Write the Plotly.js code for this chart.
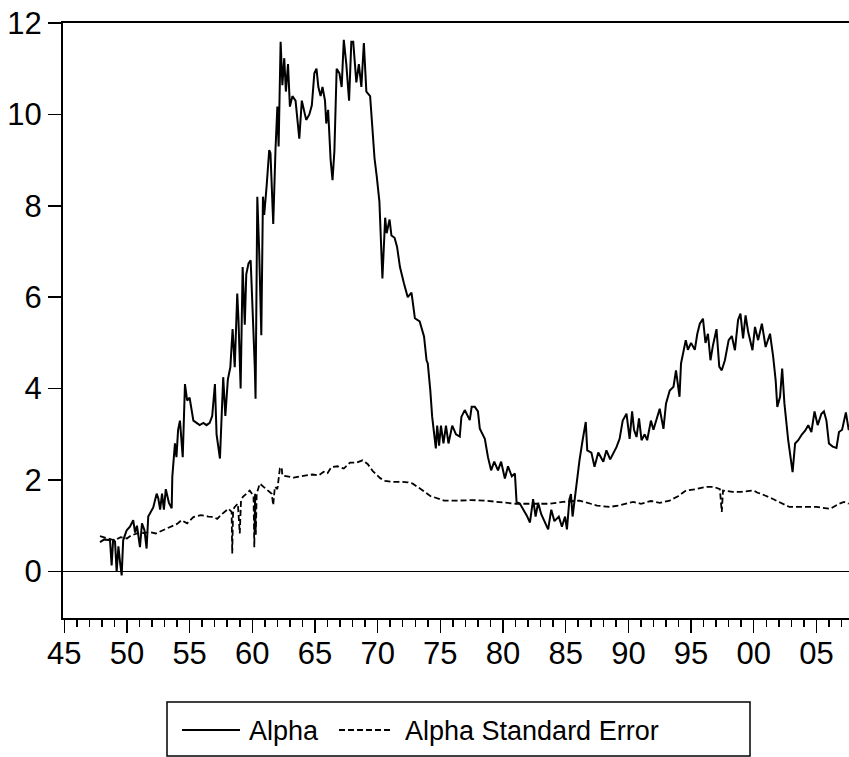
<!DOCTYPE html>
<html>
<head>
<meta charset="utf-8">
<script src="https://cdn.plot.ly/plotly-3.0.1.min.js"></script>
<style>html,body{margin:0;padding:0;background:#fff;}#chart{width:849px;height:757px;}</style>
</head>
<body>
<div id="chart"></div>
<script>
// Alpha (solid) — decimal year, value
var alphaYears = [1947.85,1948.2,1948.65,1948.78,1948.9,1949.05,1949.18,1949.32,1949.45,1949.58,1949.7,1949.98,1950.24,1950.5,1950.65,1950.8,1951.04,1951.2,1951.4,1951.57,1951.7,1952.1,1952.37,1952.5,1952.65,1952.8,1952.95,1953.1,1953.35,1953.57,1953.62,1953.83,1953.95,1954.08,1954.23,1954.45,1954.63,1954.8,1955.0,1955.3,1955.56,1955.8,1956.1,1956.35,1956.6,1956.8,1957.02,1957.15,1957.42,1957.68,1957.85,1958.05,1958.25,1958.43,1958.6,1958.8,1958.9,1959.07,1959.23,1959.4,1959.52,1959.7,1959.87,1960.0,1960.2,1960.26,1960.4,1960.55,1960.72,1960.85,1960.95,1961.14,1961.35,1961.45,1961.67,1961.85,1962.0,1962.1,1962.26,1962.4,1962.55,1962.68,1962.85,1963.0,1963.2,1963.45,1963.75,1963.95,1964.1,1964.3,1964.55,1964.75,1964.95,1965.12,1965.27,1965.45,1965.6,1965.8,1965.9,1966.05,1966.25,1966.4,1966.55,1966.73,1966.95,1967.13,1967.3,1967.5,1967.72,1967.9,1968.05,1968.3,1968.5,1968.7,1968.9,1969.1,1969.4,1969.6,1969.75,1969.93,1970.14,1970.38,1970.6,1970.72,1970.95,1971.1,1971.35,1971.55,1971.78,1972.1,1972.4,1972.7,1972.97,1973.35,1973.7,1973.9,1974.0,1974.2,1974.35,1974.64,1974.75,1974.9,1975.05,1975.25,1975.45,1975.65,1975.95,1976.25,1976.55,1976.68,1976.95,1977.35,1977.5,1977.75,1978.0,1978.15,1978.55,1978.8,1979.05,1979.3,1979.6,1979.85,1980.15,1980.4,1980.7,1980.95,1981.08,1981.35,1981.6,1981.9,1982.15,1982.4,1982.6,1982.8,1983.05,1983.3,1983.6,1983.85,1984.1,1984.45,1984.7,1984.95,1985.1,1985.3,1985.42,1985.55,1985.8,1986.1,1986.35,1986.6,1986.72,1987.05,1987.3,1987.6,1988.0,1988.25,1988.55,1988.8,1989.05,1989.3,1989.55,1989.85,1990.1,1990.3,1990.45,1990.65,1990.85,1991.05,1991.3,1991.5,1991.8,1992.0,1992.25,1992.5,1992.8,1993.0,1993.3,1993.6,1993.8,1994.08,1994.2,1994.58,1994.75,1995.0,1995.3,1995.5,1995.7,1995.95,1996.15,1996.35,1996.55,1996.75,1997.03,1997.25,1997.45,1997.7,1998.0,1998.25,1998.5,1998.75,1998.94,1999.15,1999.35,1999.55,1999.9,2000.1,2000.35,2000.65,2000.95,2001.3,2001.55,2001.75,2001.88,2002.1,2002.27,2002.45,2002.75,2002.95,2003.1,2003.3,2003.55,2003.85,2004.1,2004.35,2004.6,2004.85,2005.1,2005.4,2005.6,2005.8,2006.0,2006.3,2006.6,2006.8,2007.05,2007.35,2007.58];
var alphaValues = [0.64,0.70,0.68,0.13,0.70,0.65,-0.01,0.55,0.20,-0.09,0.68,0.90,0.98,1.12,0.85,1.00,0.53,1.05,0.90,0.50,1.20,1.40,1.70,1.60,1.35,1.70,1.35,1.80,1.50,1.38,2.07,2.80,2.50,3.09,3.30,2.50,4.10,3.74,3.80,3.30,3.25,3.20,3.25,3.20,3.25,3.40,4.10,3.00,2.47,4.25,3.40,4.20,4.47,5.30,4.47,6.08,5.50,4.00,6.66,5.40,6.50,6.74,6.81,6.00,4.47,3.78,8.20,7.00,5.17,8.20,7.80,8.42,9.22,9.15,7.60,9.22,10.17,9.30,11.59,10.64,11.23,10.50,11.10,10.17,10.40,10.30,9.47,10.30,10.10,9.88,10.00,10.20,10.90,11.00,10.60,10.40,10.60,10.30,9.80,10.10,9.00,8.56,9.20,11.00,10.90,10.60,11.63,11.10,10.30,11.59,11.59,10.70,11.10,10.60,11.56,10.50,10.40,9.56,9.04,8.64,8.09,6.41,7.74,7.40,7.70,7.35,7.30,7.10,6.66,6.30,6.00,6.10,5.54,5.47,5.14,4.62,4.55,3.96,3.38,2.69,3.19,2.75,3.19,2.80,3.19,2.80,3.19,3.00,2.95,3.38,3.53,3.31,3.60,3.60,3.50,3.12,2.90,2.50,2.21,2.40,2.21,2.40,2.03,2.30,2.08,2.14,1.52,1.48,1.37,1.22,1.07,1.58,1.20,1.50,1.25,1.10,0.92,1.35,1.10,1.20,0.98,1.20,0.92,1.58,1.69,1.20,1.80,2.43,2.87,3.27,2.65,2.60,2.29,2.60,2.40,2.65,2.45,2.58,2.72,2.90,3.30,3.45,2.90,3.50,3.10,2.94,3.35,2.87,3.00,2.87,3.30,3.10,3.35,3.56,3.12,3.67,3.96,4.04,4.40,3.82,4.55,5.06,4.85,5.00,4.85,5.20,5.42,5.53,5.00,5.20,4.62,4.95,5.30,4.48,4.40,4.62,5.06,5.15,4.84,5.50,5.64,5.10,5.60,5.25,4.84,5.35,5.06,5.42,4.91,5.20,4.70,4.18,3.60,3.82,4.44,3.67,2.87,2.43,2.17,2.80,2.87,3.00,3.08,3.20,3.05,3.50,3.20,3.45,3.50,3.30,2.80,2.73,2.70,3.05,3.10,3.48,3.09];

// Alpha Standard Error (dashed)
var seYears = [1947.85,1948.5,1949.0,1949.5,1950.0,1950.3,1950.8,1951.3,1951.8,1952.3,1952.9,1953.5,1954.0,1954.36,1954.8,1955.3,1955.9,1956.5,1956.9,1957.2,1957.6,1958.1,1958.35,1958.4,1958.47,1958.6,1958.85,1959.0,1959.1,1959.25,1959.5,1959.8,1960.1,1960.16,1960.22,1960.28,1960.35,1960.6,1960.9,1961.3,1961.55,1961.67,1961.8,1962.0,1962.2,1962.34,1962.4,1962.8,1963.3,1963.8,1964.3,1964.8,1965.3,1965.7,1966.0,1966.3,1966.8,1967.3,1967.8,1968.3,1968.8,1969.2,1969.6,1970.2,1970.6,1971.2,1971.8,1972.4,1972.8,1973.2,1973.6,1974.2,1974.7,1975.3,1976.5,1977.5,1978.5,1979.75,1981.0,1982.5,1983.7,1984.8,1986.1,1987.0,1987.5,1988.5,1989.2,1990.4,1991.0,1991.8,1992.5,1993.3,1994.0,1994.6,1995.4,1996.2,1996.8,1997.3,1997.45,1997.55,1998.3,1999.0,2000.0,2000.3,2000.6,2000.9,2001.0,2001.2,2001.5,2002.0,2002.85,2004.0,2005.0,2006.1,2006.8,2007.2,2007.58];
var seValues = [0.77,0.72,0.68,0.75,0.72,0.78,0.83,0.84,0.86,0.83,0.90,0.97,1.04,1.12,1.05,1.19,1.23,1.20,1.19,1.15,1.26,1.37,1.30,0.39,1.35,1.41,1.48,0.83,1.55,1.63,1.70,1.77,1.65,0.53,1.70,0.80,1.70,1.92,1.85,1.77,1.70,1.45,1.85,1.80,2.25,2.28,2.10,2.08,2.05,2.08,2.10,2.12,2.10,2.18,2.15,2.28,2.30,2.25,2.38,2.38,2.43,2.35,2.20,2.04,1.98,1.96,1.96,1.95,1.92,1.85,1.77,1.65,1.60,1.55,1.55,1.56,1.55,1.52,1.48,1.48,1.48,1.52,1.55,1.48,1.44,1.41,1.44,1.52,1.48,1.54,1.50,1.55,1.65,1.77,1.80,1.85,1.85,1.80,1.30,1.77,1.74,1.74,1.77,1.72,1.70,1.66,1.65,1.62,1.59,1.52,1.41,1.41,1.41,1.37,1.48,1.52,1.48];

var seriesNames = ["Alpha", "Alpha Standard Error"];
var majorTickVals = [1945,1950,1955,1960,1965,1970,1975,1980,1985,1990,1995,2000,2005];
var majorTickText = ["45","50","55","60","65","70","75","80","85","90","95","00","05"];
var yTickVals = [0,2,4,6,8,10,12];

var fontFam = '"Liberation Sans", Arial, sans-serif';

// page geometry (px) for the plot frame and legend box
var W = 849, H = 757, ML = 63, MR = 0, MT = 23, MB = 139;
var plotW = W - ML - MR, plotH = H - MT - MB;
function px2x(p) { return (p - ML) / plotW; }
function py2y(p) { return (H - MB - p) / plotH; }

var legBox = {l: 167, r: 750, t: 702, b: 756};
var legMidY = 730;
var legItems = [
  {lineFrom: 182, lineTo: 240, textAt: 247, dash: 'solid', width: 2},
  {lineFrom: 339, lineTo: 391, textAt: 403, dash: '6px,3px', width: 1.8}
];

var shapes = [{
  type: 'rect', xref: 'paper', yref: 'paper',
  x0: px2x(legBox.l), x1: px2x(legBox.r), y0: py2y(legBox.b), y1: py2y(legBox.t),
  line: {color: '#000', width: 1.5}, fillcolor: 'rgba(0,0,0,0)'
}];
var annotations = [];
legItems.forEach(function (it, i) {
  shapes.push({
    type: 'line', xref: 'paper', yref: 'paper',
    x0: px2x(it.lineFrom), x1: px2x(it.lineTo), y0: py2y(legMidY), y1: py2y(legMidY),
    line: {color: '#000', width: it.width, dash: it.dash}
  });
  annotations.push({
    xref: 'paper', yref: 'paper', x: px2x(it.textAt), y: py2y(legMidY + 1),
    xanchor: 'left', yanchor: 'middle', showarrow: false, text: seriesNames[i],
    font: {family: fontFam, size: 27, color: '#000'}
  });
});

var traces = [
  {x: alphaYears, y: alphaValues, type: 'scatter', mode: 'lines', name: seriesNames[0],
   line: {color: '#000', width: 2}},
  {x: seYears, y: seValues, type: 'scatter', mode: 'lines', name: seriesNames[1],
   line: {color: '#000', width: 1.8, dash: '6px,3px'}}
];

var layout = {
  width: W, height: H,
  margin: {l: ML, r: MR, t: MT, b: MB},
  paper_bgcolor: '#fff', plot_bgcolor: '#fff',
  font: {family: fontFam, color: '#000', size: 31},
  showlegend: false,
  shapes: shapes,
  annotations: annotations,
  xaxis: {
    range: [1944.9, 2007.6],
    showgrid: false, zeroline: false,
    showline: true, linecolor: '#000', linewidth: 2, mirror: true,
    tickmode: 'array', tickvals: majorTickVals, ticktext: majorTickText,
    ticks: 'outside', ticklen: 13, tickwidth: 1.5, tickcolor: '#000',
    ticklabelstandoff: -6,
    tickfont: {family: fontFam, size: 31, color: '#000'},
    minor: {tickmode: 'linear', tick0: 1945, dtick: 1, ticks: 'outside', ticklen: 7, tickwidth: 1.5, tickcolor: '#000', showgrid: false}
  },
  yaxis: {
    range: [-1.02, 12],
    showgrid: false,
    zeroline: true, zerolinecolor: '#000', zerolinewidth: 1.5,
    showline: true, linecolor: '#000', linewidth: 2, mirror: false,
    tickmode: 'array', tickvals: yTickVals,
    ticks: 'outside', ticklen: 13, tickwidth: 1.5, tickcolor: '#000',
    tickfont: {family: fontFam, size: 31, color: '#000'}
  }
};

Plotly.newPlot('chart', traces, layout, {displayModeBar: false, staticPlot: true});
</script>
</body>
</html>
